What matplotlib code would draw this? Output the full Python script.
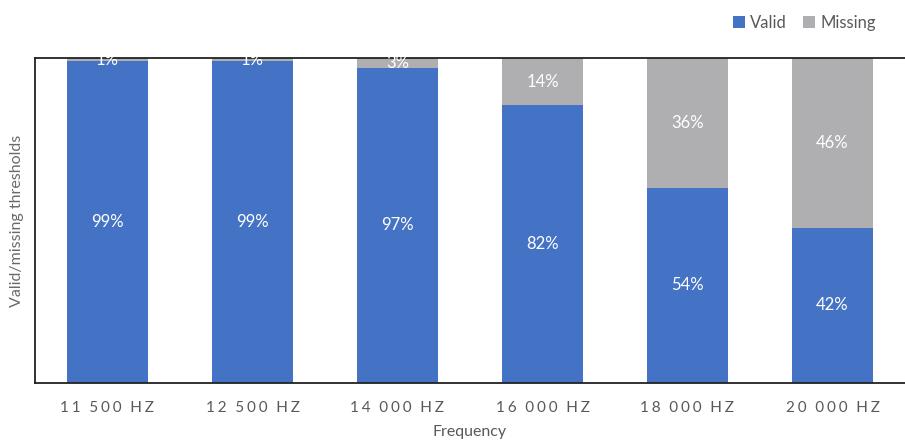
import numpy as np
import matplotlib.pyplot as plt

plt.rcParams['font.family'] = ['Lato', 'DejaVu Sans']

frequencies = ["11 500 Hz", "12 500 Hz", "14 000 Hz", "16 000 Hz", "18 000 Hz", "20 000 Hz"]
valid = [99, 99, 97, 82, 54, 42]
missing = [1, 1, 3, 14, 36, 46]

blue = "#4472C4"
grey = "#AFAFB2"
text_grey = "#595959"

valid = np.array(valid, dtype=float)
missing = np.array(missing, dtype=float)
total = valid + missing
valid_share = valid / total
missing_share = missing / total


def spaced(label):
    # wide letter spacing on the category labels
    gap = "\u2009\u200a"
    return (" \u2009" + gap).join(gap.join(w) for w in label.upper().split(" "))


fig = plt.figure(figsize=(9.05, 4.47), dpi=100)
ax = fig.add_axes([35 / 905, 1 - 383 / 447, 1 - 35 / 905, (383 - 58) / 447])

x = np.arange(len(frequencies))
width = 0.56
b1 = ax.bar(x, valid_share, width, color=blue, label="Valid", zorder=2)
b2 = ax.bar(x, missing_share, width, bottom=valid_share, color=grey, label="Missing", zorder=2)

for i in range(len(x)):
    ax.text(x[i], valid_share[i] / 2, f"{valid[i]:.0f}%", ha="center", va="center",
            color="white", fontsize=12, zorder=3)
    ax.text(x[i], valid_share[i] + missing_share[i] / 2, f"{missing[i]:.0f}%", ha="center",
            va="center", color="white", fontsize=12, zorder=3)

ax.set_xlim(-0.5, len(x) - 0.5)
ax.set_ylim(0, 1)
ax.set_yticks([])
ax.set_xticks(x)
ax.set_xticklabels([spaced(f) for f in frequencies], color=text_grey, fontsize=11)
ax.tick_params(axis="x", length=0, pad=13)

for side in ["left", "top", "bottom"]:
    ax.spines[side].set_color("#222222")
    ax.spines[side].set_linewidth(1.3)
ax.spines["right"].set_visible(False)

ax.set_ylabel("Valid/missing thresholds", color="#6a6a6a", fontsize=11.5, labelpad=8)
ax.set_xlabel("Frequency", color=text_grey, fontsize=11.5, labelpad=7)

leg = fig.legend(handles=[b1, b2], labels=["Valid", "Missing"], loc="upper right",
                 bbox_to_anchor=(0.984, 1.0), ncol=2, frameon=False, fontsize=12,
                 handlelength=0.7, handleheight=0.7, handletextpad=0.3, columnspacing=1.0)
for t in leg.get_texts():
    t.set_color(text_grey)

fig.savefig("out.png", dpi=100)
